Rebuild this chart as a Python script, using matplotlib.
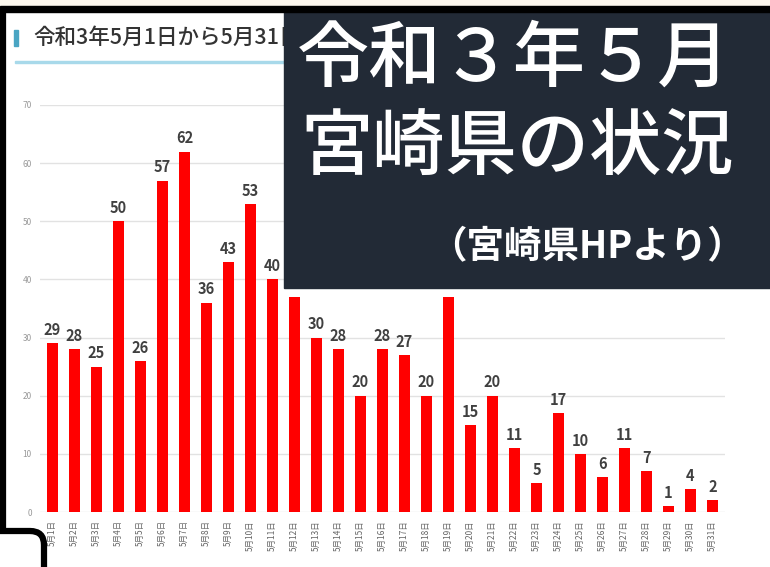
import matplotlib.pyplot as plt
from matplotlib.patches import Rectangle
from matplotlib.path import Path
from matplotlib.patches import PathPatch
import numpy as np

plt.rcParams['font.family'] = ['Noto Sans CJK JP', 'DejaVu Sans']

days = [f"5月{d}日" for d in range(1, 32)]
cases = [29, 28, 25, 50, 26, 57, 62, 36, 43, 53, 40, 37, 30, 28, 20,
         28, 27, 20, 37, 15, 20, 11, 5, 17, 10, 6, 11, 7, 1, 4, 2]
yticks = [0, 10, 20, 30, 40, 50, 60, 70]

title = "令和3年5月1日から5月31日"
box_line1 = "令和３年５月"
box_line2 = "宮崎県の状況"
box_line3 = "（宮崎県HPより）"

W, H = 770, 567


def fx(x):
    return x / W


def fy(y):
    return 1 - y / H


fig = plt.figure(figsize=(W / 100, H / 100), dpi=100)
fig.patch.set_facecolor('white')

# bar chart area (pixel bounds)
left, right, top, bottom = 40, 725, 105, 512
ax = fig.add_axes([fx(left), fy(bottom), (right - left) / W, (bottom - top) / H])
x = np.arange(len(cases))
ax.bar(x, cases, width=0.52, color='#ff0000', zorder=3)
for xi, v in zip(x, cases):
    ax.text(xi, v + 0.9, str(v), ha='center', va='bottom', fontsize=10.5,
            fontweight='bold', color='#404040')

ax.set_xlim((left - 52.5) / 22, (right - 52.5) / 22)
ax.set_ylim(0, 70)
ax.set_yticks(yticks)
ax.set_yticklabels([str(t) for t in yticks], fontsize=6, color='#999999')
ax.set_xticks(x)
ax.set_xticklabels(days, rotation=90, fontsize=6, color='#666666')
ax.tick_params(length=0, pad=6)
ax.yaxis.grid(True, color='#e2e2e2', linewidth=1, zorder=0)
for s in ax.spines.values():
    s.set_visible(False)

# page header (its end is hidden under the overlay box)
t = fig.text(fx(33), fy(38), title, fontsize=15.5, color='#333333', fontweight='medium',
             va='center', ha='left')
clip = Rectangle((0, 0), fx(284), 1, transform=fig.transFigure)
t.set_clip_path(clip)
fig.add_artist(Rectangle((fx(14), fy(46)), 4 / W, 16 / H, transform=fig.transFigure,
                         color='#4aa5c3', zorder=2))
fig.add_artist(Rectangle((fx(15), fy(63)), (W - 15) / W, 2 / H, transform=fig.transFigure,
                         color='#a8d9ea', zorder=2))

# frame of the screenshot
fig.add_artist(Rectangle((0, fy(6)), 1, 6 / H, transform=fig.transFigure,
                         color='#fdf8ee', zorder=6))
fig.add_artist(Rectangle((0, fy(12)), 1, 6 / H, transform=fig.transFigure,
                         color='black', zorder=6))
hook = Path([(fx(3), fy(8)), (fx(3), fy(531)), (fx(30), fy(531)),
             (fx(44), fy(531)), (fx(44), fy(545)), (fx(44), fy(570))],
            [Path.MOVETO, Path.LINETO, Path.LINETO, Path.CURVE3, Path.CURVE3, Path.LINETO])
fig.add_artist(PathPatch(hook, transform=fig.transFigure, fill=False,
                         edgecolor='black', linewidth=4.5, zorder=6))

# dark overlay box
fig.add_artist(Rectangle((fx(284), fy(288)), (W - 284) / W, (288 - 12) / H,
                         transform=fig.transFigure, color='#222a36', zorder=5))
fig.text(fx(297), fy(60), box_line1, fontsize=52, color='white', fontweight='medium',
         ha='left', va='center', zorder=7)
fig.text(fx(300), fy(148), box_line2, fontsize=52, color='white', fontweight='medium',
         ha='left', va='center', zorder=7)
fig.text(fx(745), fy(247), box_line3, fontsize=27, color='white', fontweight='bold',
         ha='right', va='center', zorder=7)

fig.savefig('out.png', dpi=100)
